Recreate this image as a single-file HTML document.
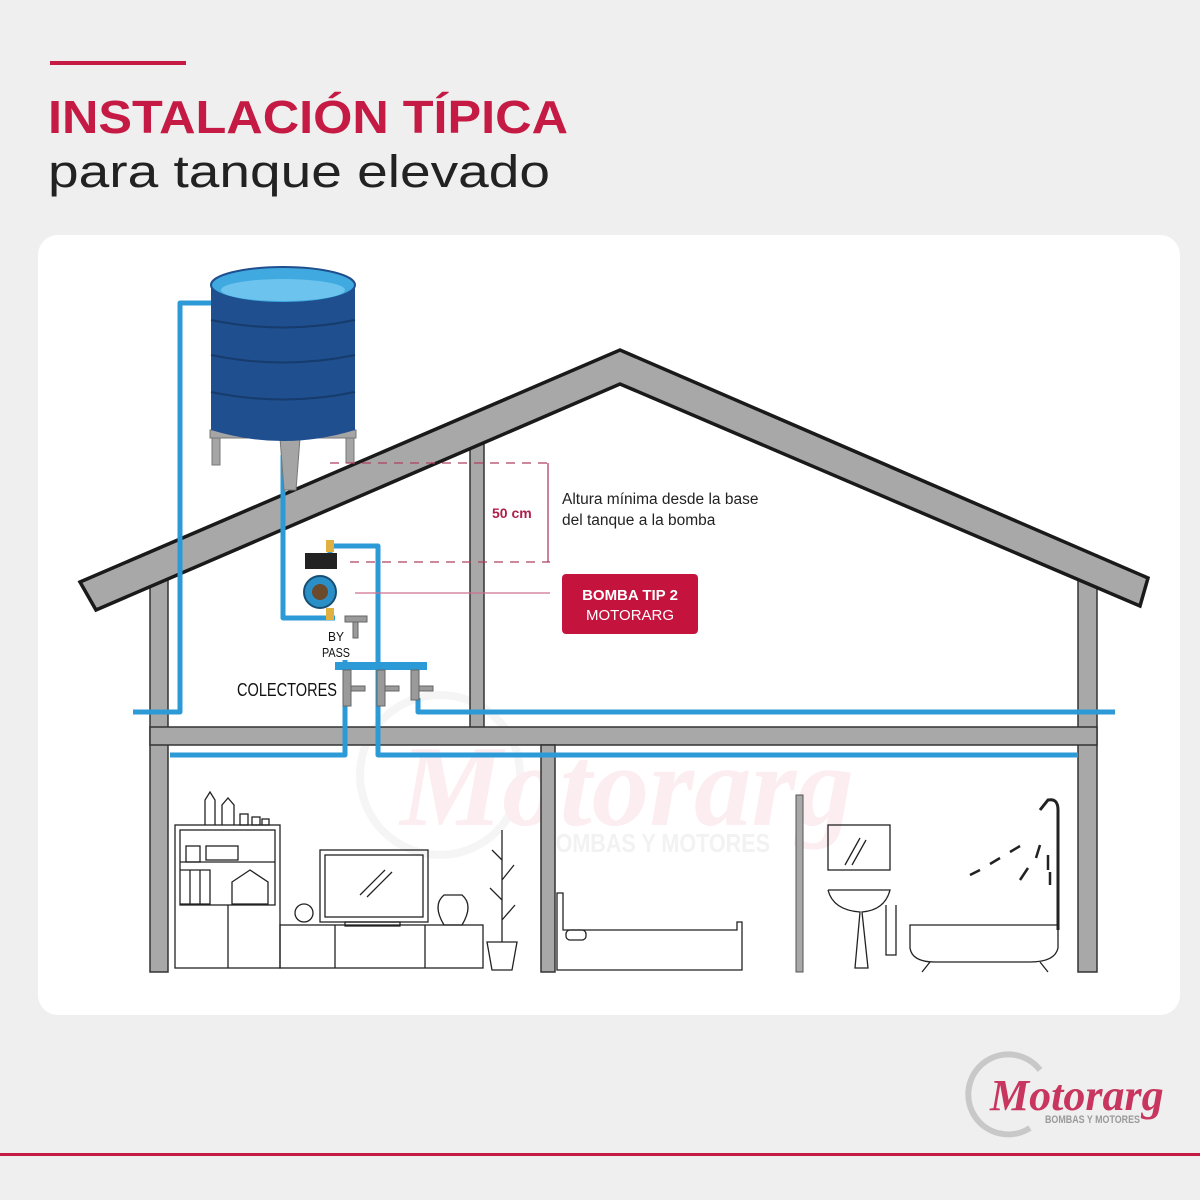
<!DOCTYPE html>
<html><head><meta charset="utf-8"><style>
html,body{margin:0;padding:0;width:1200px;height:1200px;background:#efefef;overflow:hidden}
svg{display:block}
</style></head><body>
<svg width="1200" height="1200" viewBox="0 0 1200 1200" xmlns="http://www.w3.org/2000/svg" font-family="Liberation Sans, sans-serif">
<rect width="1200" height="1200" fill="#efefef"/>
<!-- title -->
<rect x="50" y="61" width="136" height="4" fill="#c41a44"/>
<text x="48" y="133" font-size="46" fill="#c41a44" font-weight="bold" textLength="520" lengthAdjust="spacingAndGlyphs">INSTALACIÓN TÍPICA</text>
<text x="48" y="187" font-size="45" fill="#222" textLength="502" lengthAdjust="spacingAndGlyphs">para tanque elevado</text>
<!-- panel -->
<rect x="38" y="235" width="1142" height="780" rx="20" fill="#fff"/>
<!-- watermark -->
<circle cx="440" cy="775" r="80" fill="none" stroke="#f5f5f5" stroke-width="8"/>
<text x="400" y="825" font-size="115" font-style="italic" font-weight="bold" fill="#fcedf1" font-family="Liberation Serif, serif">Motorarg</text>
<text x="540" y="852" font-size="26" fill="#f2f2f2" font-weight="bold" textLength="230" lengthAdjust="spacingAndGlyphs">BOMBAS Y MOTORES</text>
<!-- attic interior wall -->
<rect x="470" y="440" width="14" height="290" fill="#a8a8a8" stroke="#333" stroke-width="1.5"/>
<!-- walls -->
<rect x="150" y="560" width="18" height="412" fill="#a8a8a8" stroke="#333" stroke-width="1.5"/>
<rect x="1078" y="555" width="19" height="417" fill="#a8a8a8" stroke="#333" stroke-width="1.5"/>
<rect x="150" y="727" width="947" height="18" fill="#a8a8a8" stroke="#333" stroke-width="1.5"/>
<rect x="541" y="745" width="14" height="227" fill="#a8a8a8" stroke="#333" stroke-width="1.5"/>
<rect x="796" y="795" width="7" height="177" fill="#a8a8a8" stroke="#555" stroke-width="1"/>
<!-- roof -->
<polygon points="80,582 620,350 1148,578 1140,606 620,384 96,610" fill="#a8a8a8" stroke="#1a1a1a" stroke-width="3.5" stroke-linejoin="miter"/>
<!-- pipes -->
<g fill="none" stroke="#2c9ad6" stroke-width="5" stroke-linejoin="round">
<path d="M212,303 H180 V712 H133"/>
<path d="M418,698 V712 H1115"/>
<path d="M283,455 V618 H335"/>
<path d="M330,560 V546 H378 V755 H1078"/>
<path d="M345,660 V755 H170"/>
</g>
<rect x="335" y="662" width="92" height="8" fill="#2c9ad6"/>
<!-- valves -->
<g fill="#9a9a9a" stroke="#666" stroke-width="1">
<rect x="343" y="670" width="8" height="36"/><rect x="351" y="686" width="14" height="5"/>
<rect x="377" y="670" width="8" height="36"/><rect x="385" y="686" width="14" height="5"/>
<rect x="411" y="670" width="8" height="30"/><rect x="419" y="686" width="14" height="5"/>
<rect x="345" y="616" width="22" height="6"/><rect x="353" y="622" width="5" height="16"/>
</g>
<!-- tank stand -->
<g stroke="#777" fill="#a5a5a5" stroke-width="1">
<rect x="212" y="425" width="8" height="40"/><rect x="346" y="425" width="8" height="38"/>
<rect x="210" y="430" width="146" height="8"/>
<polygon points="280,438 300,438 296,490 284,490"/>
</g>
<!-- tank -->
<path d="M211,285 V430 Q283,452 355,430 V285 Z" fill="#1f4f8e"/>
<g stroke="#163b6c" stroke-width="2" fill="none">
<path d="M211,320 Q283,335 355,320"/><path d="M211,355 Q283,370 355,355"/><path d="M211,392 Q283,407 355,392"/>
</g>
<ellipse cx="283" cy="285" rx="72" ry="18" fill="#3fa9e0" stroke="#1f4f8e" stroke-width="2"/>
<ellipse cx="283" cy="290" rx="62" ry="11" fill="#6cc4ee"/>
<!-- pump -->
<rect x="305" y="553" width="32" height="16" fill="#222"/>
<circle cx="320" cy="592" r="16" fill="#2a8fc7" stroke="#174f74" stroke-width="2"/>
<circle cx="320" cy="592" r="8" fill="#6a4a2a"/>
<rect x="326" y="540" width="8" height="12" fill="#e0b040"/>
<rect x="326" y="608" width="8" height="12" fill="#e0b040"/>
<!-- dimension -->
<g stroke="#b04060" stroke-width="1.3" fill="none">
<line x1="330" y1="463" x2="550" y2="463" stroke-dasharray="9,7"/>
<line x1="350" y1="562" x2="550" y2="562" stroke-dasharray="9,7"/>
<line x1="548" y1="463" x2="548" y2="562"/>
<line x1="355" y1="593" x2="550" y2="593" stroke="#d07090"/>
</g>
<text x="492" y="518" font-size="14" font-weight="bold" fill="#b01e4a">50 cm</text>
<text x="562" y="504" font-size="15.5" fill="#222">Altura mínima desde la base</text>
<text x="562" y="525" font-size="15.5" fill="#222">del tanque a la bomba</text>
<rect x="562" y="574" width="136" height="60" rx="4" fill="#c4143e"/>
<text x="630" y="600" font-size="15" font-weight="bold" fill="#fff" text-anchor="middle">BOMBA TIP 2</text>
<text x="630" y="620" font-size="15" fill="#fff" text-anchor="middle">MOTORARG</text>
<g fill="#111">
<text x="336" y="641" font-size="13" text-anchor="middle" textLength="16" lengthAdjust="spacingAndGlyphs">BY</text>
<text x="336" y="657" font-size="13" text-anchor="middle" textLength="28" lengthAdjust="spacingAndGlyphs">PASS</text>
<text x="237" y="696" font-size="18" textLength="100" lengthAdjust="spacingAndGlyphs">COLECTORES</text>
</g>
<!-- furniture -->
<g fill="none" stroke="#222" stroke-width="1.3">
<rect x="175" y="825" width="105" height="143"/><rect x="180" y="830" width="95" height="75"/>
<line x1="180" y1="862" x2="275" y2="862"/><line x1="228" y1="905" x2="228" y2="968"/>
<path d="M205,825 V800 L210,792 L215,800 V825 M222,825 V805 L228,798 L234,805 V825"/>
<rect x="240" y="814" width="8" height="11"/><rect x="252" y="817" width="8" height="8"/><rect x="262" y="819" width="7" height="6"/>
<rect x="186" y="846" width="14" height="16"/><rect x="206" y="846" width="32" height="14"/>
<path d="M180,870 H210 V904 H180 M190,870 V904 M200,870 V904"/><path d="M232,882 L250,870 L268,882 V904 H232 Z"/>
<rect x="280" y="925" width="203" height="43"/><line x1="335" y1="925" x2="335" y2="968"/><line x1="425" y1="925" x2="425" y2="968"/>
<rect x="320" y="850" width="108" height="72"/><rect x="325" y="855" width="98" height="62"/>
<path d="M360,895 L385,870 M367,897 L392,872"/><rect x="345" y="922" width="55" height="4"/>
<circle cx="304" cy="913" r="9"/><path d="M444,925 Q432,905 444,895 H462 Q474,905 462,925 Z"/>
<path d="M487,942 H517 L512,970 H492 Z"/><path d="M502,942 V830 M502,860 L492,850 M502,880 L514,865 M502,900 L490,888 M502,920 L515,905"/>
<path d="M557,970 V893 H563 V930 H737 V922 H742 V970 Z"/><rect x="566" y="930" width="20" height="10" rx="4"/>
<rect x="828" y="825" width="62" height="45"/><path d="M845,865 L860,838 M852,865 L866,840"/>
<path d="M828,890 H890 Q885,910 862,912 L868,968 H855 L860,912 Q833,910 828,890"/>
<path d="M886,905 V955 H896 V905"/>
<path d="M910,925 H1058 V948 Q1055,962 1030,962 H935 Q912,962 910,948 Z"/>
<path d="M930,962 L922,972 M1040,962 L1048,972"/>
<path d="M1058,930 V810 Q1058,798 1048,800 L1040,810" stroke-width="3"/>
<path d="M970,875 L980,870 M990,864 L1000,858 M1010,852 L1020,846 M1020,880 L1028,868 M1036,858 L1040,845 M1048,870 L1048,855 M1050,885 L1050,872" stroke-width="2.5"/>
</g>
<!-- logo -->
<path d="M1040,1070 A40,40 0 1 0 1030,1128" fill="none" stroke="#c8c8c8" stroke-width="6"/>
<text x="990" y="1110" font-size="44" font-style="italic" font-weight="bold" fill="#c8355e" font-family="Liberation Serif, serif">Motorarg</text>
<text x="1045" y="1123" font-size="11" font-weight="bold" fill="#9a9a9a" textLength="95" lengthAdjust="spacingAndGlyphs">BOMBAS Y MOTORES</text>
<rect x="0" y="1153" width="1200" height="3" fill="#c41a44"/>
</svg>
</body></html>
